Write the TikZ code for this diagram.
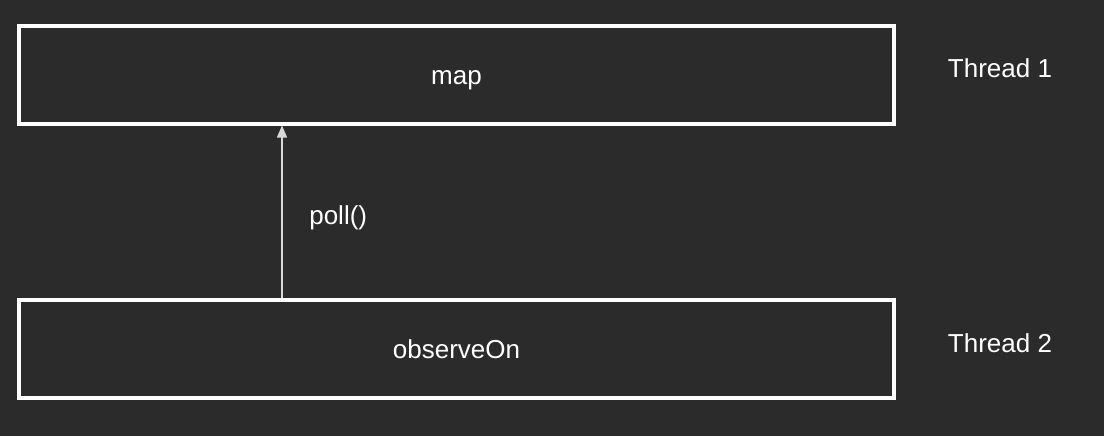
\documentclass[tikz,border=0pt]{standalone}
\usepackage{fontspec}
\setmainfont{Liberation Sans}
\usepackage{tikz}
\usepackage{xcolor}
\usetikzlibrary{arrows.meta}

\definecolor{bgdark}{HTML}{2B2B2B}
\definecolor{arrowgray}{HTML}{D9D9D9}

\tikzset{
  textline/.style={text=white, text height=9.5pt, text depth=0pt},
  threadbox/.style={textline, draw=white, line width=1.75pt, minimum width=437.5pt,
    minimum height=49pt, inner sep=0pt},
  threadlabel/.style={textline},
  pollarrow/.style={-{Triangle[width=5pt,length=6pt]}, arrowgray, line width=0.65pt}
}

\begin{document}
\begin{tikzpicture}[x=0.5pt, y=-0.5pt, font=\fontsize{13}{15}\selectfont]
  \fill[bgdark] (0,0) rectangle (1104,436);
  \useasboundingbox (0,0) rectangle (1104,436);
\node[threadbox] (map) at (456.5,74.75) {map};
\node[threadbox] (observeon) at (456.5,349) {observeOn};
\node[threadlabel] (thread1) at (1000,68) {Thread 1};
\node[threadlabel] (thread2) at (1000,343) {Thread 2};
\coordinate (pollx) at (282,0);
\draw[pollarrow] (pollx |- observeon.north) -- (pollx |- map.south)
node[midway, right=10pt, yshift=-1.5pt, textline] (poll) {poll()};
\end{tikzpicture}
\end{document}
